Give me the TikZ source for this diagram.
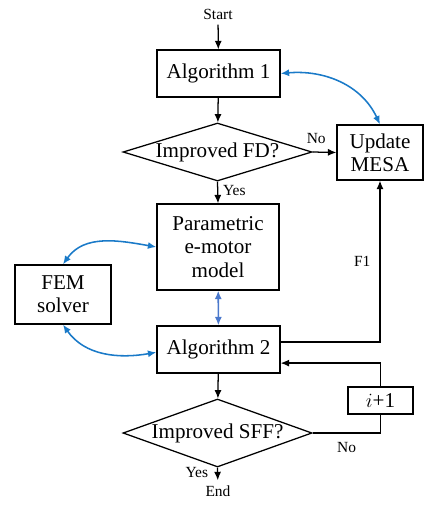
\documentclass[tikz,border=0pt]{standalone}
\usepackage{fontspec}
\setmainfont{Liberation Serif}
\usetikzlibrary{shapes.geometric,arrows.meta}
\definecolor{curveblue}{HTML}{1A7AC8}
\definecolor{linkblue}{HTML}{4A78CC}
\begin{document}
\begin{tikzpicture}[x=0.025cm,y=0.025cm,line width=0.9pt,>={Latex[length=6pt,width=5pt]},
  every node/.style={font=\fontsize{15}{16.5}\selectfont},
  block/.style={draw,align=center,inner sep=0pt},
  decision/.style={draw,diamond,inner sep=0pt,minimum width=4.725cm,minimum height=1.45cm},
  small/.style={font=\fontsize{11}{12}\selectfont},
  loop/.style={<->,curveblue,line width=1.1pt}]
\useasboundingbox (0,0) rectangle (425,-508);
\node[small] (start) at (218,-14) {Start};
\node[block,minimum width=3.075cm,minimum height=1.175cm] (alg1) at (218.5,-73.5) {Algorithm 1};
\node[decision,label={center:Improved FD?}] (fd) at (217.5,-152) {};
\node[block,minimum width=2.15cm,minimum height=1.375cm] (mesa) at (380,-152.5) {Update\\MESA};
\node[block,minimum width=3.05cm,minimum height=2.15cm] (param) at (218,-247) {Parametric\\e-motor\\model};
\node[block,minimum width=2.4cm,minimum height=1.475cm] (fem) at (63,-294.5) {FEM\\solver};
\node[block,minimum width=3.075cm,minimum height=1.175cm] (alg2) at (218.5,-349.5) {Algorithm 2};
\node[decision,minimum height=1.7cm,label={center:Improved SFF?}] (sff) at (217.5,-433) {};
\node[block,minimum width=1.625cm,minimum height=0.675cm] (inc) at (380.5,-400.5) {$i$+1};
\node[small] (stop) at (218,-491) {End};
\draw[->] (start) -- (alg1);
\draw[->] (alg1) -- (fd);
\draw[->] (fd.east) -- (mesa.west) node[small,pos=0.15,above=2pt] {No};
\draw[->] (fd.south) -- (param.north) node[small,pos=0.4,right] {Yes};
\draw[->] ([yshift=0.19cm]alg2.east) -| node[small,pos=0.75,left=3pt] {F1} (mesa.south);
\draw[->] (alg2) -- (sff);
\draw (sff.east) -| node[small,pos=0.25,below=3pt] {No} (inc.south);
\draw[->] (inc.north) |- ([yshift=-0.34cm]alg2.east);
\draw[->] (sff.south) -- (stop) node[small,pos=0.35,left=3pt] {Yes};
\draw[loop] (alg1.east) to[out=5,in=115] (mesa.north);
\draw[loop] (fem.north) to[out=55,in=170] (param.west);
\draw[loop] (fem.south) to[out=-55,in=190] ([yshift=-0.07cm]alg2.west);
\draw[<->,linkblue,line width=1.1pt] (param) -- (alg2);
\end{tikzpicture}
\end{document}
